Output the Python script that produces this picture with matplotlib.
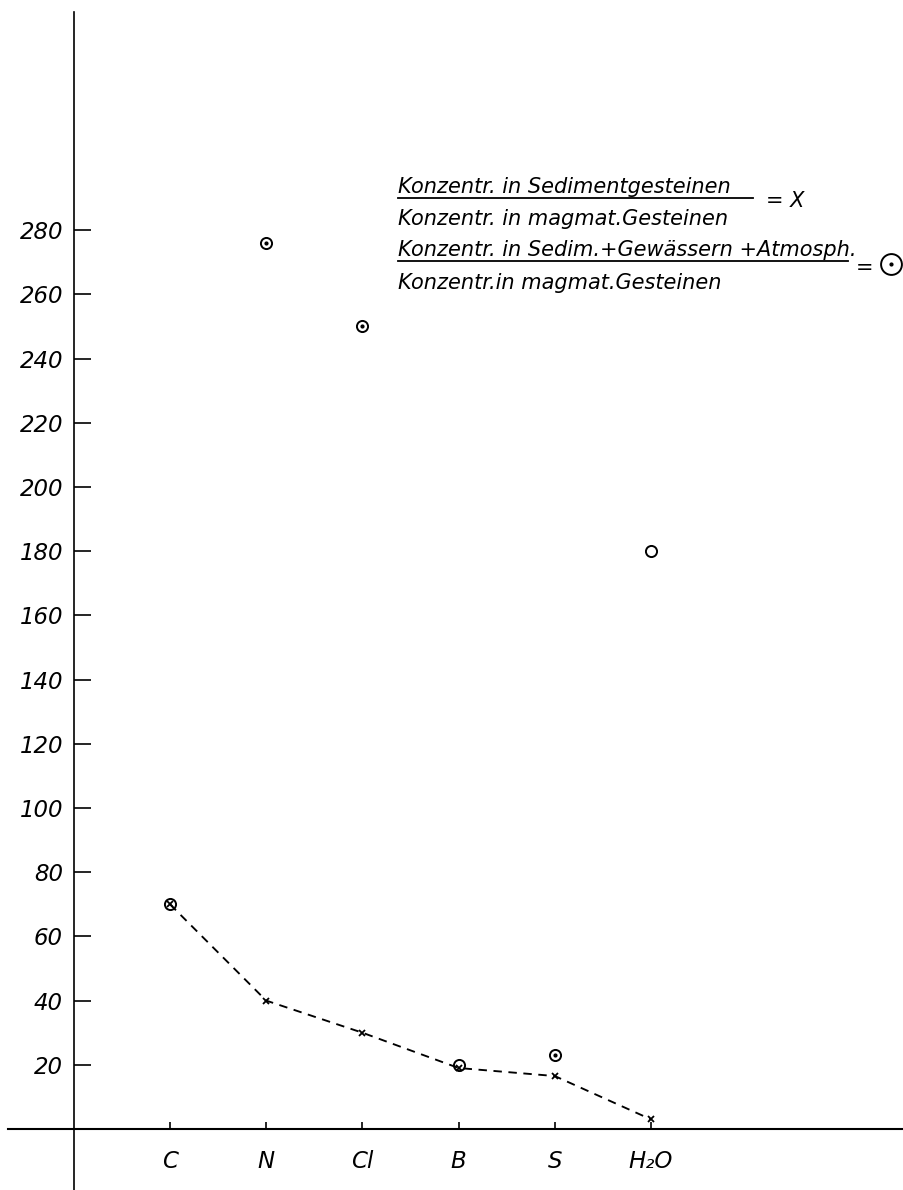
"""Enrichment ratios of volatile elements: sediments vs. magmatic rocks."""

import matplotlib

matplotlib.use("Agg")
import matplotlib.pyplot as plt
from matplotlib.lines import Line2D


ELEMENTS = ["C", "N", "Cl", "B", "S", "H₂O"]
ELEMENT_POS = [1, 2, 3, 4, 5, 6]
# (Sedim. + Gewässer + Atmosph.) / magmat. Gesteine  -> circles
RATIO_TOTAL = [70, 276, 250, 20, 23, 180]
# circles that show a centre dot in the original
HAS_DOT = [False, True, True, False, True, False]
# Sedimentgesteine / magmat. Gesteine  -> crosses, dashed line
RATIO_SEDIMENT = [70, 40, 30, 19, 16.5, 3]
Y_TICKS = [20, 40, 60, 80, 100, 120, 140, 160, 180, 200, 220, 240, 260, 280]
Y_TICK_LABELS = ["20", "40", "60", "80", "100", "120", "140", "160",
                 "180", "200", "220", "240", "260", "280"]

LEGEND_LINES = [
    "Konzentr. in Sedimentgesteinen",
    "Konzentr. in magmat.Gesteinen",
    "Konzentr. in Sedim.+Gewässern +Atmosph.",
    "Konzentr.in magmat.Gesteinen",
]

W, H = 904, 1190


def fig_xy(px, py):
    return px / W, 1 - py / H


def main() -> None:
    plt.rcParams.update(
        {
            "font.family": ["DejaVu Sans"],
            "font.style": "italic",
        }
    )
    fig = plt.figure(figsize=(W / 100, H / 100), dpi=100)
    ax = fig.add_axes([0, 0, 1, 1])
    ax.set_xlim(-0.767, 8.630)
    ax.set_ylim(-19.0, 351.7)

    ax.spines[["top", "right"]].set_visible(False)
    ax.spines["left"].set_position(("data", 0))
    ax.spines["bottom"].set_position(("data", 0))
    ax.spines["left"].set_bounds(-19.0, 348.0)
    ax.spines["bottom"].set_bounds(-0.684, 8.63)
    ax.spines["left"].set_linewidth(1.2)
    ax.spines["bottom"].set_linewidth(1.5)

    ax.plot(
        ELEMENT_POS,
        RATIO_SEDIMENT,
        color="black",
        linewidth=1.35,
        dashes=(4.5, 3.5),
        marker="x",
        markersize=4.5,
        markeredgewidth=1.3,
        zorder=3,
    )
    ax.plot(
        ELEMENT_POS,
        RATIO_TOTAL,
        linestyle="none",
        marker="o",
        markersize=8,
        markerfacecolor="none",
        markeredgecolor="black",
        markeredgewidth=1.4,
        zorder=4,
    )
    dot_x = [x for x, d in zip(ELEMENT_POS, HAS_DOT) if d]
    dot_y = [y for y, d in zip(RATIO_TOTAL, HAS_DOT) if d]
    ax.plot(dot_x, dot_y, linestyle="none", marker="o", markersize=2,
            color="black", zorder=4)

    ax.set_xticks(ELEMENT_POS, ELEMENTS)
    ax.set_yticks(Y_TICKS, Y_TICK_LABELS)
    ax.tick_params(axis="y", direction="in", length=12, width=1.2,
                   pad=7.8, labelsize=16.5)
    ax.tick_params(axis="x", direction="in", length=5, width=1.2,
                   pad=15, labelsize=16.5)

    # legend block (two fractions)
    txt = dict(fontsize=15, ha="left", va="baseline", color="black")
    baselines = [193, 225, 256, 289]
    for line, base in zip(LEGEND_LINES, baselines):
        fig.text(*fig_xy(398, base), line, **txt)
    for x1, y in [(753, 198), (848, 261)]:
        xa, ya = fig_xy(398, y)
        xb, _ = fig_xy(x1, y)
        fig.add_artist(Line2D([xa, xb], [ya, ya], transform=fig.transFigure,
                              color="black", linewidth=1.3))
    fig.text(*fig_xy(766, 207), "= X", **txt)
    fig.text(*fig_xy(856, 274), "=", **txt)
    cx, cy = fig_xy(891, 264)
    fig.add_artist(Line2D([cx], [cy], transform=fig.transFigure, marker="o",
                          markersize=15, markerfacecolor="none",
                          markeredgecolor="black", markeredgewidth=1.4))
    fig.add_artist(Line2D([cx], [cy], transform=fig.transFigure, marker="o",
                          markersize=2, color="black"))

    fig.savefig("out.png", dpi=100)
    plt.close(fig)


if __name__ == "__main__":
    main()
